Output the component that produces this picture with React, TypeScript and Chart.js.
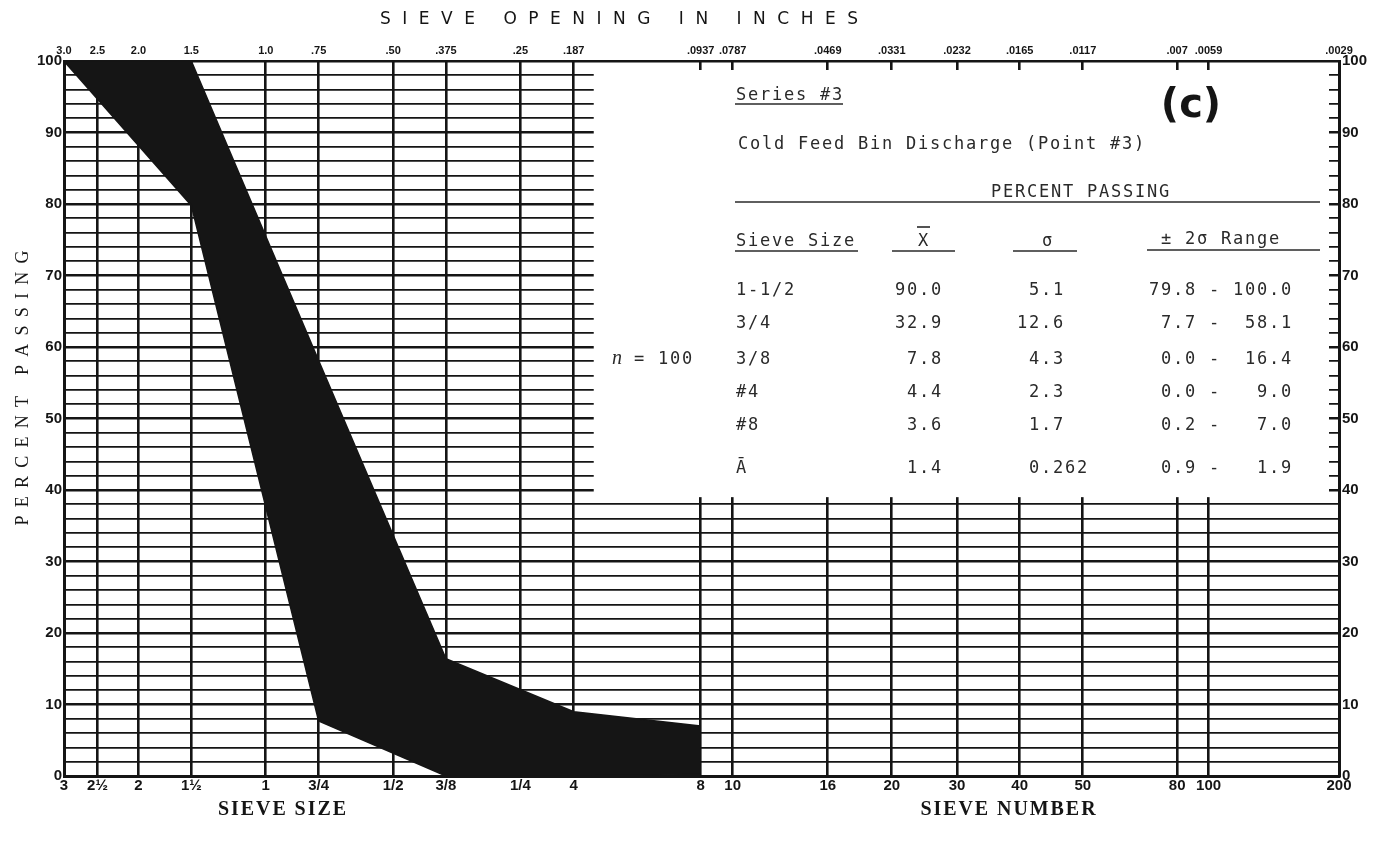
import React, { useEffect, useRef } from "react";
import { Chart, registerables } from "chart.js";

Chart.register(...registerables);

// ---- axis data ----
const sieveOpenings = [3.0, 2.5, 2.0, 1.5, 1.0, 0.75, 0.5, 0.375, 0.25, 0.187, 0.0937, 0.0787, 0.0469, 0.0331, 0.0232, 0.0165, 0.0117, 0.007, 0.0059, 0.0029];
const sieveSizeLabels = ["3", "2½", "2", "1½", "1", "3/4", "1/2", "3/8", "1/4", "4", "8", "10", "16", "20", "30", "40", "50", "80", "100", "200"];
const openingLabels = ["3.0", "2.5", "2.0", "1.5", "1.0", ".75", ".50", ".375", ".25", ".187", ".0937", ".0787", ".0469", ".0331", ".0232", ".0165", ".0117", ".007", ".0059", ".0029"];
const percentGrid = [0, 2, 4, 6, 8, 10, 12, 14, 16, 18, 20, 22, 24, 26, 28, 30, 32, 34, 36, 38, 40, 42, 44, 46, 48, 50, 52, 54, 56, 58, 60, 62, 64, 66, 68, 70, 72, 74, 76, 78, 80, 82, 84, 86, 88, 90, 92, 94, 96, 98, 100];

// ---- band (±2σ range) ----
const bandSieves = [3.0, 1.5, 0.75, 0.375, 0.187, 0.0937];
const upperLimit = [100, 100, 58.1, 16.4, 9.0, 7.0];
const lowerLimit = [100, 79.8, 7.7, 0.0, 0.0, 0.2];

// ---- table ----
const tableSieves = ["1-1/2", "3/4", "3/8", "#4", "#8", "Ā"];
const tableMean = ["90.0", "32.9", "7.8", "4.4", "3.6", "1.4"];
const tableSigma = ["5.1", "12.6", "4.3", "2.3", "1.7", "0.262"];
const rangeLow = ["79.8", "7.7", "0.0", "0.0", "0.2", "0.9"];
const rangeHigh = ["100.0", "58.1", "16.4", "9.0", "7.0", "1.9"];

const INK = "#151515";
const TEXT = "#2a2a2a";

function spacedText(ctx: any, text: string, cx: number, y: number, sp: number) {
  const widths = Array.from(text).map((ch) => ctx.measureText(ch).width);
  const total = widths.reduce((a, b) => a + b, 0) + sp * (widths.length - 1);
  let x = cx - total / 2;
  ctx.textAlign = "left";
  Array.from(text).forEach((ch, i) => {
    ctx.fillText(ch, x, y);
    x += widths[i] + sp;
  });
}
function spacingFor(ctx: any, text: string, target: number) {
  const chars = Array.from(text);
  const nat = chars.reduce((a, ch) => a + ctx.measureText(ch).width, 0);
  return (target - nat) / (chars.length - 1);
}
function mono(ctx: any, text: string, x: number, y: number, cell = 12) {
  ctx.textAlign = "left";
  Array.from(text).forEach((ch, i) => {
    const w = ctx.measureText(ch).width;
    ctx.fillText(ch, x + i * cell + (cell - w) / 2, y);
  });
}
function hline(ctx: any, x1: number, x2: number, y: number, w = 1.5) {
  ctx.beginPath();
  ctx.lineWidth = w;
  ctx.moveTo(x1, y);
  ctx.lineTo(x2, y);
  ctx.stroke();
}

const overlay = {
  id: "overlay",
  beforeDatasetsDraw(chart: any) {
    const ctx = chart.ctx;
    const xs = chart.scales.x;
    const ys = chart.scales.y;
    const left = xs.getPixelForValue(0.187) + 20;
    const right = chart.chartArea.right - 10;
    const top = ys.getPixelForValue(100) + 9;
    const bottom = ys.getPixelForValue(39);
    ctx.save();
    ctx.fillStyle = "#ffffff";
    ctx.fillRect(left, top, right - left, bottom - top);
    ctx.restore();
  },
  afterDraw(chart: any) {
    const ctx = chart.ctx;
    ctx.save();
    ctx.fillStyle = INK;
    ctx.strokeStyle = INK;
    ctx.textBaseline = "alphabetic";

    // axis titles
    ctx.font = '17px "DejaVu Sans"';
    spacedText(ctx, "SIEVE OPENING IN INCHES", 619, 24, spacingFor(ctx, "SIEVE OPENING IN INCHES", 478));
    ctx.font = 'bold 20px "Liberation Serif"';
    const sp = spacingFor(ctx, "SIEVE SIZE", 128);
    spacedText(ctx, "SIEVE SIZE", 282, 815, sp);
    spacedText(ctx, "SIEVE NUMBER", 1008, 815, sp);
    ctx.save();
    ctx.translate(28, 388);
    ctx.rotate(-Math.PI / 2);
    ctx.font = '18px "Liberation Serif"';
    spacedText(ctx, "PERCENT PASSING", 0, 0, spacingFor(ctx, "PERCENT PASSING", 275));
    ctx.restore();

    // table
    ctx.fillStyle = TEXT;
    ctx.strokeStyle = TEXT;
    ctx.font = '17px "DejaVu Sans Mono"';
    mono(ctx, "Series #3", 735, 100);
    hline(ctx, 735, 843, 104);
    mono(ctx, "Cold Feed Bin Discharge (Point #3)", 737, 149);
    mono(ctx, "PERCENT PASSING", 990, 197);
    hline(ctx, 735, 1320, 202);

    mono(ctx, "Sieve Size", 735, 246);
    hline(ctx, 735, 858, 251);
    mono(ctx, "X", 917, 246);
    hline(ctx, 917, 930, 227, 1.6);
    hline(ctx, 892, 955, 251);
    mono(ctx, "σ", 1041, 246);
    hline(ctx, 1013, 1077, 251);
    mono(ctx, "± 2σ Range", 1160, 244);
    hline(ctx, 1147, 1320, 250);

    const rowY = [295, 328, 364, 397, 430, 473];
    tableSieves.forEach((s, i) => {
      const y = rowY[i];
      mono(ctx, s, 735, y);
      const m = tableMean[i];
      mono(ctx, m, 918 - m.indexOf(".") * 12, y);
      const sg = tableSigma[i];
      mono(ctx, sg, 1040 - sg.indexOf(".") * 12, y);
      mono(ctx, rangeLow[i].padStart(4, " ") + " - " + rangeHigh[i].padStart(5, " "), 1148, y);
    });

    ctx.font = 'italic 20px "Liberation Serif"';
    ctx.textAlign = "left";
    ctx.fillText("n", 612, 364);
    ctx.font = '17px "DejaVu Sans Mono"';
    mono(ctx, "= 100", 633, 364);

    ctx.font = 'bold 40px "DejaVu Sans"';
    ctx.textAlign = "center";
    ctx.fillStyle = INK;
    ctx.fillText("(c)", 1191, 117);
    ctx.restore();
  },
};

export default function App() {
  const ref = useRef<HTMLCanvasElement>(null);
  useEffect(() => {
    const tickFont = { family: "Liberation Sans", weight: "bold" as const, size: 15 };
    const chart = new Chart(ref.current as HTMLCanvasElement, {
      type: "line",
      data: {
        datasets: [
          {
            label: "Upper limit",
            data: bandSieves.map((s, i) => ({ x: s, y: upperLimit[i] })),
            borderColor: INK,
            borderWidth: 1.5,
            pointRadius: 0,
            fill: false,
            tension: 0,
          },
          {
            label: "Lower limit",
            data: bandSieves.map((s, i) => ({ x: s, y: lowerLimit[i] })),
            borderColor: INK,
            borderWidth: 1.5,
            pointRadius: 0,
            fill: "-1",
            backgroundColor: INK,
            tension: 0,
          },
        ],
      },
      options: {
        responsive: false,
        animation: false,
        devicePixelRatio: 1,
        layout: { padding: 0 },
        plugins: { legend: { display: false }, tooltip: { enabled: false } },
        scales: {
          x: {
            type: "logarithmic",
            axis: "x",
            position: "bottom",
            reverse: true,
            min: 0.0029,
            max: 3.0,
            bounds: "data",
            afterBuildTicks: (s: any) => {
              s.ticks = sieveOpenings.map((v) => ({ value: v }));
            },
            afterFit: (s: any) => {
              s.height = 66;
            },
            ticks: {
              autoSkip: false,
              maxRotation: 0,
              minRotation: 0,
              padding: 1,
              color: INK,
              font: tickFont,
              callback: (_v: any, i: number) => sieveSizeLabels[i],
            },
            grid: { color: INK, lineWidth: 2.6, drawTicks: false },
            border: { display: true, color: INK, width: 3 },
          },
          x2: {
            type: "logarithmic",
            axis: "x",
            position: "top",
            reverse: true,
            min: 0.0029,
            max: 3.0,
            bounds: "data",
            afterBuildTicks: (s: any) => {
              s.ticks = sieveOpenings.map((v) => ({ value: v }));
            },
            afterFit: (s: any) => {
              s.height = 61;
            },
            ticks: {
              autoSkip: false,
              maxRotation: 0,
              minRotation: 0,
              padding: 3,
              color: INK,
              font: { family: "Liberation Sans", weight: "bold" as const, size: 11 },
              callback: (_v: any, i: number) => openingLabels[i],
            },
            grid: { display: false, drawTicks: false },
            border: { display: true, color: INK, width: 2 },
          },
          y: {
            type: "linear",
            position: "left",
            min: 0,
            max: 100,
            afterBuildTicks: (s: any) => {
              s.ticks = percentGrid.map((v) => ({ value: v }));
            },
            afterFit: (s: any) => {
              s.width = 64;
            },
            ticks: {
              autoSkip: false,
              padding: 2,
              color: INK,
              font: tickFont,
              callback: (v: any) => (Number(v) % 10 === 0 ? String(v) : ""),
            },
            grid: {
              color: INK,
              drawTicks: false,
              lineWidth: (c: any) => (c.tick && c.tick.value % 10 === 0 ? 2.6 : 1.8),
            },
            border: { display: true, color: INK, width: 3 },
          },
          y2: {
            type: "linear",
            position: "right",
            min: 0,
            max: 100,
            afterBuildTicks: (s: any) => {
              s.ticks = percentGrid.map((v) => ({ value: v }));
            },
            afterFit: (s: any) => {
              s.width = 48;
            },
            ticks: {
              autoSkip: false,
              padding: 3,
              color: INK,
              font: tickFont,
              callback: (v: any) => (Number(v) % 10 === 0 ? String(v) : ""),
            },
            grid: { display: false, drawTicks: false },
            border: { display: true, color: INK, width: 3 },
          },
        },
      },
      plugins: [overlay],
    } as any);
    return () => chart.destroy();
  }, []);
  return (
    <canvas
      ref={ref}
      width={1387}
      height={842}
      style={{ position: "absolute", left: 0, top: 0, display: "block", background: "#fff" }}
    />
  );
}
